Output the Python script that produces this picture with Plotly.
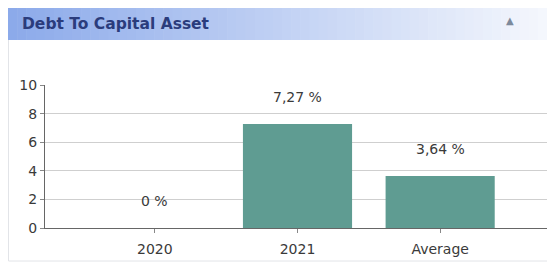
import plotly.graph_objects as go

categories = ["2020", "2021", "Average"]
values = [0.0, 7.27, 3.64]
value_labels = ["0 %", "7,27 %", "3,64 %"]
y_ticks = [0, 2, 4, 6, 8, 10]

OFF = 8  # page body margin
W, H = 547, 254
ML, MR, MT, MB = 37, 5, 77, 34
pw = W - ML - MR
ph = H - MT - MB

def px_x(px):  # page px -> paper
    return (px - OFF - ML) / pw

def px_y(py):
    return (H - MB - (py - OFF)) / ph

fig = go.Figure()
fig.add_trace(go.Bar(
    x=categories, y=values, width=0.765,
    marker=dict(color="#5f9c92", line=dict(width=0)),
    hoverinfo="skip",
))

shapes = []
shapes.append(dict(type="rect", xref="paper", yref="paper",
                   x0=px_x(8.5), x1=px_x(554.5), y0=px_y(261), y1=px_y(8),
                   line=dict(color="#e2e4e8", width=1), fillcolor="rgba(0,0,0,0)", layer="below"))
n = 60
x0p, x1p = 8, 556
c0 = (140, 170, 234)
c1 = (246, 248, 253)
for i in range(n):
    t = i / (n - 1)
    c = tuple(int(round(c0[k] + (c1[k] - c0[k]) * t)) for k in range(3))
    a = x0p + (x1p - x0p) * i / n
    b = x0p + (x1p - x0p) * (i + 1) / n + 0.6
    shapes.append(dict(type="rect", xref="paper", yref="paper",
                       x0=px_x(a), x1=px_x(b), y0=px_y(40), y1=px_y(8),
                       line=dict(width=0), fillcolor="rgb(%d,%d,%d)" % c, layer="below"))
fig.update_layout(shapes=shapes)

annotations = [
    dict(text="<b>Debt To Capital Asset</b>", xref="paper", yref="paper",
         x=px_x(20), y=px_y(24), xanchor="left", yanchor="middle", showarrow=False,
         font=dict(family="DejaVu Sans", size=15.5, color="#2b3c7c")),
    dict(text="▲", xref="paper", yref="paper", x=px_x(510), y=px_y(20),
         xanchor="center", yanchor="middle", showarrow=False,
         font=dict(family="DejaVu Sans", size=10, color="#7d8a9c")),
]
for i, (v, lab) in enumerate(zip(values, value_labels)):
    annotations.append(dict(text=lab, x=i, y=v, xref="x", yref="y",
                            yshift=27, showarrow=False, yanchor="middle",
                            font=dict(family="DejaVu Sans", size=14, color="#3a3a3a")))
fig.update_layout(annotations=annotations)

fig.update_layout(
    width=W, height=H,
    margin=dict(l=ML, r=MR, t=MT, b=MB),
    paper_bgcolor="white", plot_bgcolor="white",
    showlegend=False,
    font=dict(family="DejaVu Sans", size=14, color="#3a3a3a"),
)
fig.update_xaxes(
    type="category",
    range=[-0.77, 2.77], showgrid=False, showline=True, linecolor="#666666", linewidth=1,
    ticks="outside", ticklen=4, tickcolor="#888888", tickfont=dict(size=14, color="#3a3a3a"),
    ticklabelstandoff=4,
    fixedrange=True,
)
fig.update_yaxes(
    range=[0, 10], tickvals=y_ticks, showgrid=True, gridcolor="#cfcfcf", gridwidth=1,
    showline=True, linecolor="#666666", linewidth=1, zeroline=False,
    ticks="outside", ticklen=4, tickcolor="#888888", tickfont=dict(size=14, color="#3a3a3a"),
    fixedrange=True,
)

fig.write_html("out.html")
